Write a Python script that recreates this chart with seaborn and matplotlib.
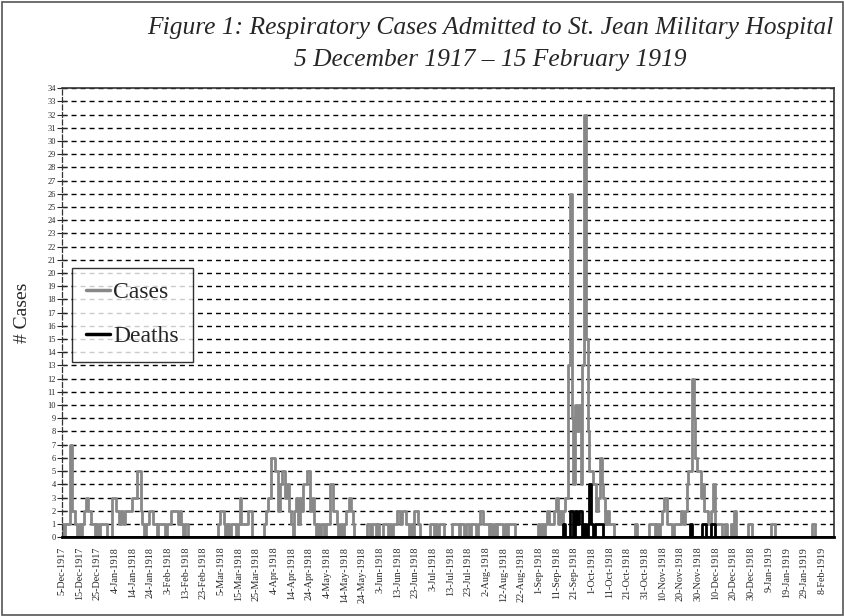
import pandas as pd
import numpy as np
import seaborn as sns
import matplotlib.pyplot as plt
import matplotlib.patches as mpatches
from matplotlib.lines import Line2D

sns.set_style('white')
plt.rcParams['font.family'] = ['Liberation Serif', 'DejaVu Serif']

PALETTE = {'Cases': '#888888', 'Deaths': 'black'}
HUE_ORDER = ['Cases', 'Deaths']

# daily admissions (respiratory cases), 5 Dec 1917 -> 15 Feb 1919
dec17 = [1,0,1,1,1,7,2,2,1,0,1,0,1,2,3,2,2,1,1,0,1,0,1,1,1,1,0]
jan18 = [0,0,3,3,2,2,1,2,1,2,2,2,2,3,3,3,5,5,2,1,0,1,1,2,2,1,1,0,1,1,1]
feb18 = [1,0,1,1,2,2,2,2,1,2,1,0,1,1,0,0,0,0,0,0,0,0,0,0,0,0,0,0]
mar18 = [0,0,0,1,2,2,1,0,1,0,1,1,1,0,1,3,1,1,1,1,2,2,0,0,0,0,0,0,0,1,2]
apr18 = [3,3,6,6,5,5,2,4,5,5,3,4,2,1,0,2,3,1,3,2,4,4,5,5,2,3,1,0,1,0]
may18 = [1,1,0,1,1,4,4,2,2,1,0,1,0,1,2,2,3,2,1,0,0,0,0,0,0,0,1,1,0,1,1]
jun18 = [0,1,0,0,1,1,1,0,1,0,1,1,2,2,1,2,2,1,1,0,1,0,2,2,1,0,0,0,0,0]
jul18 = [0,1,1,0,1,0,1,1,1,0,0,0,0,1,1,1,1,0,1,1,0,1,1,0,1,1,1,0,1,2,2]
aug18 = [1,1,1,0,1,0,1,0,1,1,1,0,1,0,1,1,1,1,0,0,0,0,0,0,0,0,0,0,0,0,0]
sep18 = [1,0,1,0,1,2,1,1,1,2,3,1,2,1,2,3,3,13,26,9,4,10,8,10,4,13,32,15,8,5]
oct18 = [5,4,4,2,3,6,4,3,1,2,1,1,1,0,0,0,0,0,0,0,0,0,0,0,0,1,0,0,0,0,0]
nov18 = [0,0,1,1,1,0,1,0,1,2,3,3,1,1,1,0,1,1,1,1,2,1,2,4,5,5,12,9,6,5]
dec18 = [5,3,4,2,2,1,1,2,4,1,1,1,1,0,0,1,0,0,1,0,2,0,0,0,0,0,0,0,1,1,0]
jan19 = [0,0,0,0,0,0,0,0,0,0,1,1,0,0,0,0,0,0,0,0,0,0,0,0,0,0,0,0,0,0,0]
feb19 = [0,0,1,1,0,0,0,0,0,0,0,0,0,0,0]

# deaths (zero outside Sep-Dec 1918)
death_sep18 = [0,0,0,0,0,0,0,0,0,0,0,0,0,0,1,0,0,0,2,2,0,2,1,2,2,0,1,0,1,4]
death_oct18 = [1,0,1,1,1,1,1,0,0,0,0,0,0,0,0,0,0,0,0,0,0,0,0,0,0,0,0,0,0,0,0]
death_nov18 = [0,0,0,0,0,0,0,0,0,0,0,0,0,0,0,0,0,0,0,0,0,0,0,0,0,1,0,0,0,0]
death_dec18 = [0,0,1,1,0,0,0,1,1,0,0,0,0,0,0,0,0,0,0,0,0,0,0,0,0,0,0,0,0,0,0]

months = [dec17, jan18, feb18, mar18, apr18, may18, jun18, jul18, aug18,
          sep18, oct18, nov18, dec18, jan19, feb19]
cases = np.concatenate(months)
deaths = np.concatenate([np.zeros(len(m)) for m in months[:9]]
                        + [death_sep18, death_oct18, death_nov18, death_dec18]
                        + [np.zeros(len(jan19)), np.zeros(len(feb19))])

dates = pd.date_range('1917-12-05', periods=len(cases), freq='D')
df = pd.concat([
    pd.DataFrame({'date': dates, 'n': cases, 'series': 'Cases'}),
    pd.DataFrame({'date': dates, 'n': deaths, 'series': 'Deaths'}),
], ignore_index=True)

tick_dates = pd.date_range('1917-12-05', '1919-02-15', freq='10D')
tick_labels = [f"{d.day}-{d.strftime('%b-%Y')}" for d in tick_dates]

fig = plt.figure(figsize=(8.45, 6.16), dpi=100)
ax = fig.add_axes([0.0734, 0.128, 0.9136, 0.729])

sns.lineplot(data=df, x='date', y='n', hue='series', hue_order=HUE_ORDER,
             palette=PALETTE, linewidth=2.0, drawstyle='steps-mid', ax=ax, legend=False)

ax.set_xlim(pd.Timestamp('1917-12-05'), pd.Timestamp('1919-02-15'))
ax.set_ylim(0, 34)
ax.set_yticks(range(0, 35))
ax.set_xticks(tick_dates)
ax.set_xticklabels(tick_labels, rotation=90, fontsize=7.3)
ax.tick_params(axis='x', length=0, pad=7)
ax.tick_params(axis='y', direction='inout', length=7, width=0.8, labelsize=6, pad=1, left=True)

ax.set_axisbelow(True)
ax.yaxis.grid(True, color='black', linestyle=(0, (3.6, 2.9)), linewidth=1.0)
ax.xaxis.grid(False)

for s in ['top', 'right']:
    ax.spines[s].set_color('#333333')
    ax.spines[s].set_linewidth(1.2)
ax.spines['left'].set_color('#333333')
ax.spines['left'].set_linestyle((0, (4, 2)))
ax.spines['left'].set_linewidth(0.9)
ax.spines['bottom'].set_color('black')
ax.spines['bottom'].set_linewidth(2)

ax.set_xlabel('')
ax.set_ylabel('# Cases', fontsize=14)
ax.yaxis.set_label_coords(-0.04, 0.5)

handles = [Line2D([], [], color=PALETTE[k], linewidth=2.5) for k in HUE_ORDER]
leg = ax.legend(handles, HUE_ORDER, loc='upper left', bbox_to_anchor=(0.013, 0.6),
                fontsize=17, frameon=True, fancybox=False, edgecolor='black',
                handlelength=1.0, handletextpad=0.15, labelspacing=0.95,
                borderpad=0.6, borderaxespad=0)
leg.get_frame().set_linewidth(1.0)

fig.text(0.58, 0.955, 'Figure 1: Respiratory Cases Admitted to St. Jean Military Hospital',
         ha='center', va='center', fontsize=18.4, style='italic')
fig.text(0.58, 0.902, '5 December 1917 \u2013 15 February 1919',
         ha='center', va='center', fontsize=18.4, style='italic')

fig.patches.append(mpatches.Rectangle((0.002, 0.002), 0.996, 0.995, transform=fig.transFigure,
                                      fill=False, edgecolor='#555555', linewidth=1.2))

fig.savefig('out.png', dpi=100)
